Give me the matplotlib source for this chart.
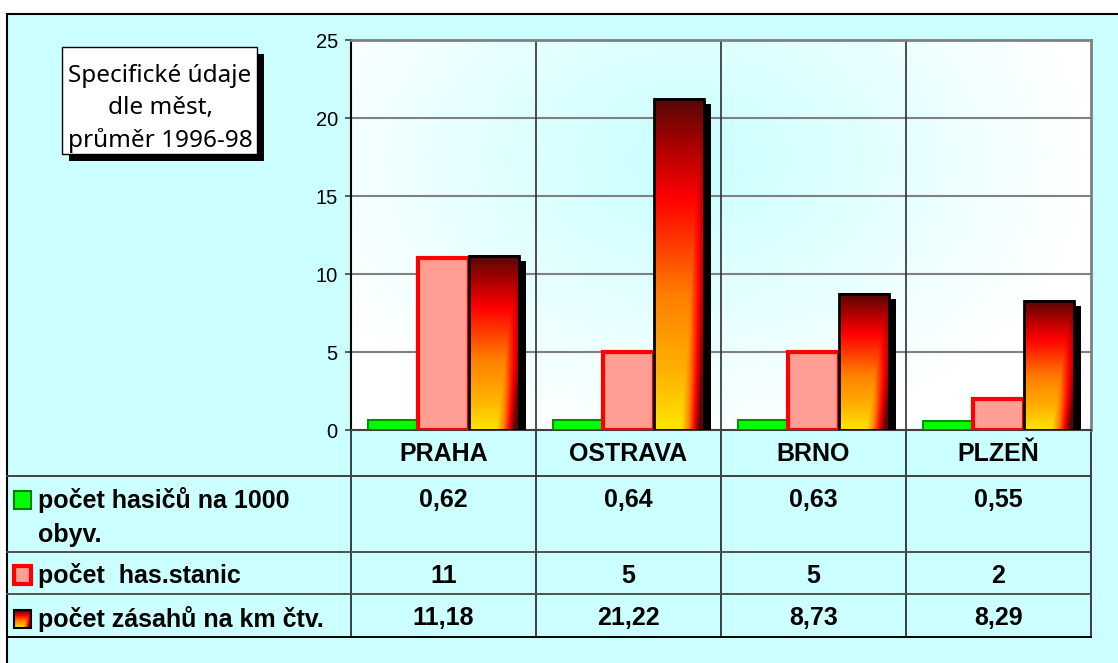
import matplotlib
matplotlib.use("Agg")
import matplotlib.pyplot as plt
import matplotlib.transforms as mtransforms
from matplotlib.colors import LinearSegmentedColormap, to_rgb
from matplotlib.patches import Rectangle
import numpy as np

# Data
cities = ["PRAHA", "OSTRAVA", "BRNO", "PLZEŇ"]
series_names = ["počet hasičů na 1000\nobyv.", "počet  has.stanic", "počet zásahů na km čtv."]
hasici = [0.62, 0.64, 0.63, 0.55]
stanice = [11, 5, 5, 2]
zasahy = [11.18, 21.22, 8.73, 8.29]
decimals = [2, 0, 2]
yticks = [0, 5, 10, 15, 20, 25]
title_lines = ["Specifické údaje", "dle měst,", "průměr 1996-98"]

plt.rcParams['font.family'] = ['Liberation Sans', 'DejaVu Sans']

W, H = 1118, 663
ax_left, ax_top, ax_w, ax_h = 351, 40, 740, 390   # plot area in pixels
cyan = '#CCFFFF'

fig = plt.figure(figsize=(W / 100, H / 100), dpi=100)
fig.patch.set_facecolor('white')

# Layout layer in pixel coordinates (background, table, title box)
lay = fig.add_axes([0, 0, 1, 1], zorder=0)
lay.set_xlim(0, W)
lay.set_ylim(H, 0)
lay.axis('off')
lay.add_patch(Rectangle((7, 14), W, H, fc=cyan, ec='black', lw=1.5))

ax = fig.add_axes([ax_left / W, (H - ax_top - ax_h) / H, ax_w / W, ax_h / H], zorder=1)

# fire gradient used for the third series
fire = LinearSegmentedColormap.from_list(
    'fire', [(0, '#FFE400'), (0.18, '#FFB000'), (0.4, '#FF8000'),
             (0.7, '#FF0000'), (0.85, '#B00000'), (1, '#560808')])


def fire_img(nx=40, ny=200):
    u = np.linspace(0, 1, nx)[None, :]
    v = np.linspace(0, 1, ny)[:, None]
    side = np.clip((u - (0.55 + 0.4 * v)) / 0.35, 0, 1)
    t = v + (1 - v) * side
    return fire(t)


# plot area background gradient
u = np.linspace(0, 1, 200)[None, :]
v = np.linspace(0, 1, 120)[:, None]
d = np.sqrt(((u - 0.45) / 0.55) ** 2 + ((v - 0.7) / 0.75) ** 2)
wgt = np.clip(1 - d, 0, 1)[..., None]
bg = np.array(to_rgb('white')) * (1 - wgt) + np.array(to_rgb('#C8FFFF')) * wgt
ax.imshow(bg, extent=(0, 1, 0, 1), transform=ax.transAxes, origin='lower',
          aspect='auto', zorder=0)
ax.patch.set_visible(False)

# bars
x = np.arange(len(cities))
bw = 0.272
ax.bar(x - bw, hasici, bw, color='#00FF00', edgecolor='#009000', lw=1.5, zorder=3)
ax.bar(x, stanice, bw, color='#FF9E94', edgecolor='#FF0000', lw=3, zorder=3)
shadow = ax.transData + mtransforms.ScaledTranslation(7 / 100, -5 / 100, fig.dpi_scale_trans)
for xi, val in zip(x + bw, zasahy):
    x0, x1 = xi - bw / 2, xi + bw / 2
    ax.add_patch(Rectangle((x0, 0), bw, val, fc='black', ec='none',
                           transform=shadow, zorder=2.9))
    ax.imshow(fire_img(), extent=(x0, x1, 0, val), origin='lower', aspect='auto',
              zorder=3, interpolation='bilinear')
    ax.add_patch(Rectangle((x0, 0), bw, val, fill=False, ec='black', lw=2, zorder=3.1))

edges = np.arange(len(cities) + 1) - 0.5
for b in edges[1:-1]:
    ax.axvline(b, color='#303030', lw=1.2, zorder=0.7)

ax.set_xlim(edges[0], edges[-1])
ax.set_ylim(yticks[0], yticks[-1])
ax.set_xticks([])
ax.set_yticks(yticks)
ax.set_yticklabels([str(t) for t in yticks], fontsize=14.5)
ax.tick_params(axis='y', length=4.5, width=1.2, color='#404040', pad=5)
ax.yaxis.grid(True, color='#808080', lw=1.5)
ax.set_axisbelow(True)
ax.spines['left'].set_color('black')
ax.spines['left'].set_linewidth(1.5)
for s in ['top', 'right']:
    ax.spines[s].set_color('#808080')
    ax.spines[s].set_linewidth(2)
ax.spines['bottom'].set_color('#404040')
ax.spines['bottom'].set_linewidth(1.5)

# data table under the chart
trans = mtransforms.blended_transform_factory(ax.transData, lay.transData)
table_right = ax_left + ax_w
row_lines = [476, 552, 594, 637]
row_colors = ['#404040', '#505050', '#505050', 'black']
for e in edges:
    lay.plot([e, e], [ax_top + ax_h, row_lines[-1]], transform=trans, color='#202020', lw=1.2)
for yl, c in zip(row_lines, row_colors):
    lay.plot([7, table_right], [yl, yl], color=c, lw=1.4)

for i, city in enumerate(cities):
    lay.text(i, 461, city, transform=trans, ha='center', va='baseline',
             fontsize=18, weight='bold')

baselines = [507, 583, 625]
for vals, dec, yb in zip([hasici, stanice, zasahy], decimals, baselines):
    for i, val in enumerate(vals):
        s = f"{val:.{dec}f}".replace('.', ',')
        lay.text(i, yb, s, transform=trans, ha='center', va='baseline',
                 fontsize=18, weight='bold')

label_baselines = [508, 583, 627]
for name, yb in zip(series_names, label_baselines):
    for k, line in enumerate(name.split('\n')):
        lay.text(38, yb + 34 * k, line, ha='left', va='baseline', fontsize=18, weight='bold')

# legend keys
lay.add_patch(Rectangle((14, 491), 17, 18, fc='#00FF00', ec='#008000', lw=1.5))
lay.add_patch(Rectangle((14, 566), 17, 18, fc='#FF9E94', ec='#FF0000', lw=3))
lay.imshow(fire_img(20, 20), extent=(14, 31, 628, 610), origin='lower', aspect='auto', zorder=2)
lay.add_patch(Rectangle((14, 610), 17, 18, fill=False, ec='black', lw=1.5, zorder=3))

# title box with shadow
lay.add_patch(Rectangle((69, 54), 195, 107, fc='black', ec='none'))
lay.add_patch(Rectangle((62, 47), 195, 107, fc='white', ec='black', lw=1))
for line, yb in zip(title_lines, [82, 114, 147]):
    lay.text(160, yb, line, ha='center', va='baseline', fontsize=17.5, family='Noto Sans')

lay.set_xlim(0, W)
lay.set_ylim(H, 0)

fig.savefig('out.png', dpi=100)
